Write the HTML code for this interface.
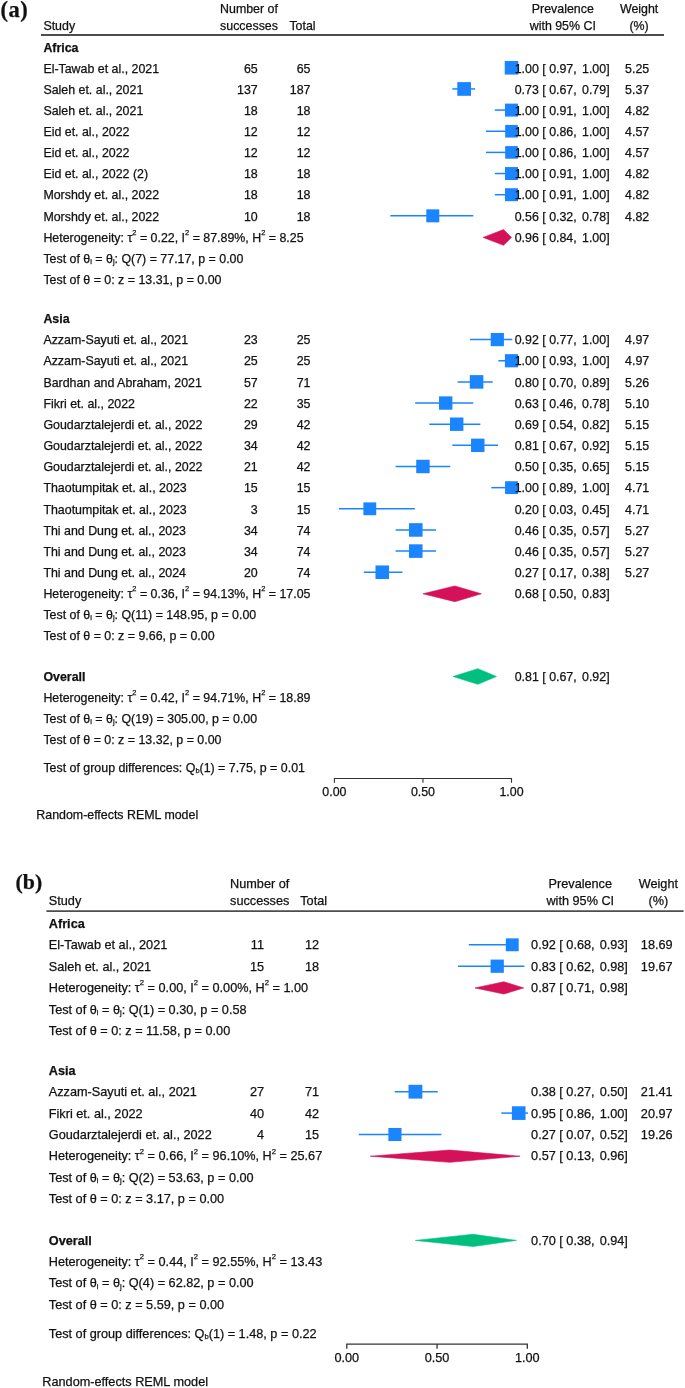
<!DOCTYPE html>
<html><head><meta charset="utf-8"><style>
html,body{margin:0;padding:0;background:#fff;}
svg{display:block;will-change:transform;}
text{font-family:"Liberation Sans",sans-serif;fill:#111;stroke:#111;stroke-width:0.25px;}
</style></head><body>
<svg width="685" height="1388" viewBox="0 0 685 1388">
<rect width="685" height="1388" fill="#fff"/>
<text x="0.50" y="17.40" font-size="22.5" font-weight="bold" style="font-family:'Liberation Serif',serif;letter-spacing:0.5px">(a)</text>
<text x="43.40" y="29.90" font-size="12.4">Study</text>
<text x="249.00" y="12.80" font-size="12.4" text-anchor="middle">Number of</text>
<text x="249.00" y="29.90" font-size="12.4" text-anchor="middle">successes</text>
<text x="302.50" y="29.90" font-size="12.4" text-anchor="middle">Total</text>
<text x="562.80" y="12.80" font-size="12.4" text-anchor="middle">Prevalence</text>
<text x="562.80" y="29.90" font-size="12.4" text-anchor="middle">with 95% CI</text>
<text x="639.10" y="12.80" font-size="12.4" text-anchor="middle">Weight</text>
<text x="639.10" y="29.90" font-size="12.4" text-anchor="middle">(%)</text>
<line x1="41" x2="664" y1="35" y2="35" stroke="#4d4d4d" stroke-width="1.8"/>
<text x="43.40" y="51.80" font-size="12.4" font-weight="bold">Africa</text>
<text x="43.40" y="72.50" font-size="12.4">El-Tawab et al., 2021</text>
<text x="257.70" y="72.50" font-size="12.4" text-anchor="end">65</text>
<text x="310.50" y="72.50" font-size="12.4" text-anchor="end">65</text>
<text x="43.40" y="93.65" font-size="12.4">Saleh et. al., 2021</text>
<text x="257.70" y="93.65" font-size="12.4" text-anchor="end">137</text>
<text x="310.50" y="93.65" font-size="12.4" text-anchor="end">187</text>
<text x="43.40" y="114.80" font-size="12.4">Saleh et. al., 2021</text>
<text x="257.70" y="114.80" font-size="12.4" text-anchor="end">18</text>
<text x="310.50" y="114.80" font-size="12.4" text-anchor="end">18</text>
<text x="43.40" y="135.95" font-size="12.4">Eid et. al., 2022</text>
<text x="257.70" y="135.95" font-size="12.4" text-anchor="end">12</text>
<text x="310.50" y="135.95" font-size="12.4" text-anchor="end">12</text>
<text x="43.40" y="157.10" font-size="12.4">Eid et. al., 2022</text>
<text x="257.70" y="157.10" font-size="12.4" text-anchor="end">12</text>
<text x="310.50" y="157.10" font-size="12.4" text-anchor="end">12</text>
<text x="43.40" y="178.25" font-size="12.4">Eid et. al., 2022 (2)</text>
<text x="257.70" y="178.25" font-size="12.4" text-anchor="end">18</text>
<text x="310.50" y="178.25" font-size="12.4" text-anchor="end">18</text>
<text x="43.40" y="199.40" font-size="12.4">Morshdy et. al., 2022</text>
<text x="257.70" y="199.40" font-size="12.4" text-anchor="end">18</text>
<text x="310.50" y="199.40" font-size="12.4" text-anchor="end">18</text>
<text x="43.40" y="220.55" font-size="12.4">Morshdy et. al., 2022</text>
<text x="257.70" y="220.55" font-size="12.4" text-anchor="end">10</text>
<text x="310.50" y="220.55" font-size="12.4" text-anchor="end">18</text>
<text x="43.40" y="241.70" font-size="12.4">Heterogeneity: τ<tspan font-size="7.44" dy="-6.70">2</tspan><tspan dy="6.70"> = 0.22, I</tspan><tspan font-size="7.44" dy="-6.70">2</tspan><tspan dy="6.70"> = 87.89%, H</tspan><tspan font-size="7.44" dy="-6.70">2</tspan><tspan dy="6.70"> = 8.25</tspan></text>
<text x="43.40" y="262.85" font-size="12.4">Test of θ<tspan font-size="7.44" dy="1.24">i</tspan><tspan dy="-1.24"> = θ</tspan><tspan font-size="7.44" dy="1.24">j</tspan><tspan dy="-1.24">: Q(7) = 77.17, p = 0.00</tspan></text>
<text x="43.40" y="284.00" font-size="12.4">Test of θ = 0: z = 13.31, p = 0.00</text>
<text x="43.40" y="323.00" font-size="12.4" font-weight="bold">Asia</text>
<text x="43.40" y="344.30" font-size="12.4">Azzam-Sayuti et. al., 2021</text>
<text x="257.70" y="344.30" font-size="12.4" text-anchor="end">23</text>
<text x="310.50" y="344.30" font-size="12.4" text-anchor="end">25</text>
<text x="43.40" y="365.45" font-size="12.4">Azzam-Sayuti et. al., 2021</text>
<text x="257.70" y="365.45" font-size="12.4" text-anchor="end">25</text>
<text x="310.50" y="365.45" font-size="12.4" text-anchor="end">25</text>
<text x="43.40" y="386.60" font-size="12.4">Bardhan and Abraham, 2021</text>
<text x="257.70" y="386.60" font-size="12.4" text-anchor="end">57</text>
<text x="310.50" y="386.60" font-size="12.4" text-anchor="end">71</text>
<text x="43.40" y="407.75" font-size="12.4">Fikri et. al., 2022</text>
<text x="257.70" y="407.75" font-size="12.4" text-anchor="end">22</text>
<text x="310.50" y="407.75" font-size="12.4" text-anchor="end">35</text>
<text x="43.40" y="428.90" font-size="12.4">Goudarztalejerdi et. al., 2022</text>
<text x="257.70" y="428.90" font-size="12.4" text-anchor="end">29</text>
<text x="310.50" y="428.90" font-size="12.4" text-anchor="end">42</text>
<text x="43.40" y="450.05" font-size="12.4">Goudarztalejerdi et. al., 2022</text>
<text x="257.70" y="450.05" font-size="12.4" text-anchor="end">34</text>
<text x="310.50" y="450.05" font-size="12.4" text-anchor="end">42</text>
<text x="43.40" y="471.20" font-size="12.4">Goudarztalejerdi et. al., 2022</text>
<text x="257.70" y="471.20" font-size="12.4" text-anchor="end">21</text>
<text x="310.50" y="471.20" font-size="12.4" text-anchor="end">42</text>
<text x="43.40" y="492.35" font-size="12.4">Thaotumpitak et. al., 2023</text>
<text x="257.70" y="492.35" font-size="12.4" text-anchor="end">15</text>
<text x="310.50" y="492.35" font-size="12.4" text-anchor="end">15</text>
<text x="43.40" y="513.50" font-size="12.4">Thaotumpitak et. al., 2023</text>
<text x="257.70" y="513.50" font-size="12.4" text-anchor="end">3</text>
<text x="310.50" y="513.50" font-size="12.4" text-anchor="end">15</text>
<text x="43.40" y="534.65" font-size="12.4">Thi and Dung et. al., 2023</text>
<text x="257.70" y="534.65" font-size="12.4" text-anchor="end">34</text>
<text x="310.50" y="534.65" font-size="12.4" text-anchor="end">74</text>
<text x="43.40" y="555.80" font-size="12.4">Thi and Dung et. al., 2023</text>
<text x="257.70" y="555.80" font-size="12.4" text-anchor="end">34</text>
<text x="310.50" y="555.80" font-size="12.4" text-anchor="end">74</text>
<text x="43.40" y="576.95" font-size="12.4">Thi and Dung et. al., 2024</text>
<text x="257.70" y="576.95" font-size="12.4" text-anchor="end">20</text>
<text x="310.50" y="576.95" font-size="12.4" text-anchor="end">74</text>
<text x="43.40" y="598.10" font-size="12.4">Heterogeneity: τ<tspan font-size="7.44" dy="-6.70">2</tspan><tspan dy="6.70"> = 0.36, I</tspan><tspan font-size="7.44" dy="-6.70">2</tspan><tspan dy="6.70"> = 94.13%, H</tspan><tspan font-size="7.44" dy="-6.70">2</tspan><tspan dy="6.70"> = 17.05</tspan></text>
<text x="43.40" y="619.25" font-size="12.4">Test of θ<tspan font-size="7.44" dy="1.24">i</tspan><tspan dy="-1.24"> = θ</tspan><tspan font-size="7.44" dy="1.24">j</tspan><tspan dy="-1.24">: Q(11) = 148.95, p = 0.00</tspan></text>
<text x="43.40" y="640.40" font-size="12.4">Test of θ = 0: z = 9.66, p = 0.00</text>
<text x="43.40" y="680.80" font-size="12.4" font-weight="bold">Overall</text>
<text x="43.40" y="701.95" font-size="12.4">Heterogeneity: τ<tspan font-size="7.44" dy="-6.70">2</tspan><tspan dy="6.70"> = 0.42, I</tspan><tspan font-size="7.44" dy="-6.70">2</tspan><tspan dy="6.70"> = 94.71%, H</tspan><tspan font-size="7.44" dy="-6.70">2</tspan><tspan dy="6.70"> = 18.89</tspan></text>
<text x="43.40" y="723.10" font-size="12.4">Test of θ<tspan font-size="7.44" dy="1.24">i</tspan><tspan dy="-1.24"> = θ</tspan><tspan font-size="7.44" dy="1.24">j</tspan><tspan dy="-1.24">: Q(19) = 305.00, p = 0.00</tspan></text>
<text x="43.40" y="744.25" font-size="12.4">Test of θ = 0: z = 13.32, p = 0.00</text>
<text x="43.40" y="771.50" font-size="12.4">Test of group differences: Q<tspan font-size="7.44" dy="1.24">b</tspan><tspan dy="-1.24">(1) = 7.75, p = 0.01</tspan></text>
<path d="M334.40,782.80 V778.50 H511.50 V782.80 M422.95,778.50 V782.80" fill="none" stroke="#333" stroke-width="1.1"/>
<text x="334.40" y="796.40" font-size="12.4" text-anchor="middle">0.00</text>
<text x="422.95" y="796.40" font-size="12.4" text-anchor="middle">0.50</text>
<text x="511.50" y="796.40" font-size="12.4" text-anchor="middle">1.00</text>
<text x="36.30" y="819.20" font-size="12.4">Random-effects REML model</text>
<line x1="506.19" x2="511.50" y1="67.80" y2="67.80" stroke="#1a85ff" stroke-width="1.5" stroke-linecap="square"/>
<rect x="504.73" y="61.03" width="13.55" height="13.55" fill="#1a85ff"/>
<line x1="453.06" x2="474.31" y1="88.95" y2="88.95" stroke="#1a85ff" stroke-width="1.5" stroke-linecap="square"/>
<rect x="457.30" y="82.10" width="13.70" height="13.70" fill="#1a85ff"/>
<line x1="495.56" x2="511.50" y1="110.10" y2="110.10" stroke="#1a85ff" stroke-width="1.5" stroke-linecap="square"/>
<rect x="505.01" y="103.61" width="12.98" height="12.98" fill="#1a85ff"/>
<line x1="486.71" x2="511.50" y1="131.25" y2="131.25" stroke="#1a85ff" stroke-width="1.5" stroke-linecap="square"/>
<rect x="505.18" y="124.93" width="12.64" height="12.64" fill="#1a85ff"/>
<line x1="486.71" x2="511.50" y1="152.40" y2="152.40" stroke="#1a85ff" stroke-width="1.5" stroke-linecap="square"/>
<rect x="505.18" y="146.08" width="12.64" height="12.64" fill="#1a85ff"/>
<line x1="495.56" x2="511.50" y1="173.55" y2="173.55" stroke="#1a85ff" stroke-width="1.5" stroke-linecap="square"/>
<rect x="505.01" y="167.06" width="12.98" height="12.98" fill="#1a85ff"/>
<line x1="495.56" x2="511.50" y1="194.70" y2="194.70" stroke="#1a85ff" stroke-width="1.5" stroke-linecap="square"/>
<rect x="505.01" y="188.21" width="12.98" height="12.98" fill="#1a85ff"/>
<line x1="391.07" x2="472.54" y1="215.85" y2="215.85" stroke="#1a85ff" stroke-width="1.5" stroke-linecap="square"/>
<rect x="426.30" y="209.36" width="12.98" height="12.98" fill="#1a85ff"/>
<polygon points="483.16,237.40 503.53,229.55 511.50,237.40 503.53,245.25" fill="#d41159" stroke="#d41159" stroke-width="0.6"/>
<line x1="470.77" x2="511.50" y1="339.60" y2="339.60" stroke="#1a85ff" stroke-width="1.5" stroke-linecap="square"/>
<rect x="490.74" y="333.01" width="13.18" height="13.18" fill="#1a85ff"/>
<line x1="499.10" x2="511.50" y1="360.75" y2="360.75" stroke="#1a85ff" stroke-width="1.5" stroke-linecap="square"/>
<rect x="504.91" y="354.16" width="13.18" height="13.18" fill="#1a85ff"/>
<line x1="458.37" x2="492.02" y1="381.90" y2="381.90" stroke="#1a85ff" stroke-width="1.5" stroke-linecap="square"/>
<rect x="469.80" y="375.12" width="13.56" height="13.56" fill="#1a85ff"/>
<line x1="415.87" x2="472.54" y1="403.05" y2="403.05" stroke="#1a85ff" stroke-width="1.5" stroke-linecap="square"/>
<rect x="439.04" y="396.37" width="13.35" height="13.35" fill="#1a85ff"/>
<line x1="430.03" x2="479.62" y1="424.20" y2="424.20" stroke="#1a85ff" stroke-width="1.5" stroke-linecap="square"/>
<rect x="449.98" y="417.49" width="13.42" height="13.42" fill="#1a85ff"/>
<line x1="453.06" x2="497.33" y1="445.35" y2="445.35" stroke="#1a85ff" stroke-width="1.5" stroke-linecap="square"/>
<rect x="471.06" y="438.64" width="13.42" height="13.42" fill="#1a85ff"/>
<line x1="396.38" x2="449.51" y1="466.50" y2="466.50" stroke="#1a85ff" stroke-width="1.5" stroke-linecap="square"/>
<rect x="416.24" y="459.79" width="13.42" height="13.42" fill="#1a85ff"/>
<line x1="492.02" x2="511.50" y1="487.65" y2="487.65" stroke="#1a85ff" stroke-width="1.5" stroke-linecap="square"/>
<rect x="505.08" y="481.23" width="12.83" height="12.83" fill="#1a85ff"/>
<line x1="339.71" x2="414.09" y1="508.80" y2="508.80" stroke="#1a85ff" stroke-width="1.5" stroke-linecap="square"/>
<rect x="363.40" y="502.38" width="12.83" height="12.83" fill="#1a85ff"/>
<line x1="396.38" x2="435.35" y1="529.95" y2="529.95" stroke="#1a85ff" stroke-width="1.5" stroke-linecap="square"/>
<rect x="408.98" y="523.16" width="13.57" height="13.57" fill="#1a85ff"/>
<line x1="396.38" x2="435.35" y1="551.10" y2="551.10" stroke="#1a85ff" stroke-width="1.5" stroke-linecap="square"/>
<rect x="408.98" y="544.31" width="13.57" height="13.57" fill="#1a85ff"/>
<line x1="364.51" x2="401.70" y1="572.25" y2="572.25" stroke="#1a85ff" stroke-width="1.5" stroke-linecap="square"/>
<rect x="375.48" y="565.46" width="13.57" height="13.57" fill="#1a85ff"/>
<polygon points="422.95,593.80 454.83,585.95 481.39,593.80 454.83,601.65" fill="#d41159" stroke="#d41159" stroke-width="0.6"/>
<polygon points="453.06,676.50 477.85,668.65 496.45,676.50 477.85,684.35" fill="#00bf7f" stroke="#00bf7f" stroke-width="0.6"/>
<text x="514.70" y="72.50" font-size="12.4">1.00 [ 0.97,</text>
<text x="609.60" y="72.50" font-size="12.4" text-anchor="end">1.00]</text>
<text x="649.20" y="72.50" font-size="12.4" text-anchor="end">5.25</text>
<text x="514.70" y="93.65" font-size="12.4">0.73 [ 0.67,</text>
<text x="609.60" y="93.65" font-size="12.4" text-anchor="end">0.79]</text>
<text x="649.20" y="93.65" font-size="12.4" text-anchor="end">5.37</text>
<text x="514.70" y="114.80" font-size="12.4">1.00 [ 0.91,</text>
<text x="609.60" y="114.80" font-size="12.4" text-anchor="end">1.00]</text>
<text x="649.20" y="114.80" font-size="12.4" text-anchor="end">4.82</text>
<text x="514.70" y="135.95" font-size="12.4">1.00 [ 0.86,</text>
<text x="609.60" y="135.95" font-size="12.4" text-anchor="end">1.00]</text>
<text x="649.20" y="135.95" font-size="12.4" text-anchor="end">4.57</text>
<text x="514.70" y="157.10" font-size="12.4">1.00 [ 0.86,</text>
<text x="609.60" y="157.10" font-size="12.4" text-anchor="end">1.00]</text>
<text x="649.20" y="157.10" font-size="12.4" text-anchor="end">4.57</text>
<text x="514.70" y="178.25" font-size="12.4">1.00 [ 0.91,</text>
<text x="609.60" y="178.25" font-size="12.4" text-anchor="end">1.00]</text>
<text x="649.20" y="178.25" font-size="12.4" text-anchor="end">4.82</text>
<text x="514.70" y="199.40" font-size="12.4">1.00 [ 0.91,</text>
<text x="609.60" y="199.40" font-size="12.4" text-anchor="end">1.00]</text>
<text x="649.20" y="199.40" font-size="12.4" text-anchor="end">4.82</text>
<text x="514.70" y="220.55" font-size="12.4">0.56 [ 0.32,</text>
<text x="609.60" y="220.55" font-size="12.4" text-anchor="end">0.78]</text>
<text x="649.20" y="220.55" font-size="12.4" text-anchor="end">4.82</text>
<text x="514.70" y="241.70" font-size="12.4">0.96 [ 0.84,</text>
<text x="609.60" y="241.70" font-size="12.4" text-anchor="end">1.00]</text>
<text x="514.70" y="344.30" font-size="12.4">0.92 [ 0.77,</text>
<text x="609.60" y="344.30" font-size="12.4" text-anchor="end">1.00]</text>
<text x="649.20" y="344.30" font-size="12.4" text-anchor="end">4.97</text>
<text x="514.70" y="365.45" font-size="12.4">1.00 [ 0.93,</text>
<text x="609.60" y="365.45" font-size="12.4" text-anchor="end">1.00]</text>
<text x="649.20" y="365.45" font-size="12.4" text-anchor="end">4.97</text>
<text x="514.70" y="386.60" font-size="12.4">0.80 [ 0.70,</text>
<text x="609.60" y="386.60" font-size="12.4" text-anchor="end">0.89]</text>
<text x="649.20" y="386.60" font-size="12.4" text-anchor="end">5.26</text>
<text x="514.70" y="407.75" font-size="12.4">0.63 [ 0.46,</text>
<text x="609.60" y="407.75" font-size="12.4" text-anchor="end">0.78]</text>
<text x="649.20" y="407.75" font-size="12.4" text-anchor="end">5.10</text>
<text x="514.70" y="428.90" font-size="12.4">0.69 [ 0.54,</text>
<text x="609.60" y="428.90" font-size="12.4" text-anchor="end">0.82]</text>
<text x="649.20" y="428.90" font-size="12.4" text-anchor="end">5.15</text>
<text x="514.70" y="450.05" font-size="12.4">0.81 [ 0.67,</text>
<text x="609.60" y="450.05" font-size="12.4" text-anchor="end">0.92]</text>
<text x="649.20" y="450.05" font-size="12.4" text-anchor="end">5.15</text>
<text x="514.70" y="471.20" font-size="12.4">0.50 [ 0.35,</text>
<text x="609.60" y="471.20" font-size="12.4" text-anchor="end">0.65]</text>
<text x="649.20" y="471.20" font-size="12.4" text-anchor="end">5.15</text>
<text x="514.70" y="492.35" font-size="12.4">1.00 [ 0.89,</text>
<text x="609.60" y="492.35" font-size="12.4" text-anchor="end">1.00]</text>
<text x="649.20" y="492.35" font-size="12.4" text-anchor="end">4.71</text>
<text x="514.70" y="513.50" font-size="12.4">0.20 [ 0.03,</text>
<text x="609.60" y="513.50" font-size="12.4" text-anchor="end">0.45]</text>
<text x="649.20" y="513.50" font-size="12.4" text-anchor="end">4.71</text>
<text x="514.70" y="534.65" font-size="12.4">0.46 [ 0.35,</text>
<text x="609.60" y="534.65" font-size="12.4" text-anchor="end">0.57]</text>
<text x="649.20" y="534.65" font-size="12.4" text-anchor="end">5.27</text>
<text x="514.70" y="555.80" font-size="12.4">0.46 [ 0.35,</text>
<text x="609.60" y="555.80" font-size="12.4" text-anchor="end">0.57]</text>
<text x="649.20" y="555.80" font-size="12.4" text-anchor="end">5.27</text>
<text x="514.70" y="576.95" font-size="12.4">0.27 [ 0.17,</text>
<text x="609.60" y="576.95" font-size="12.4" text-anchor="end">0.38]</text>
<text x="649.20" y="576.95" font-size="12.4" text-anchor="end">5.27</text>
<text x="514.70" y="598.10" font-size="12.4">0.68 [ 0.50,</text>
<text x="609.60" y="598.10" font-size="12.4" text-anchor="end">0.83]</text>
<text x="514.70" y="680.80" font-size="12.4">0.81 [ 0.67,</text>
<text x="609.60" y="680.80" font-size="12.4" text-anchor="end">0.92]</text>
<text x="15.60" y="888.90" font-size="21.8" font-weight="bold" style="font-family:'Liberation Serif',serif;letter-spacing:0px">(b)</text>
<text x="48.80" y="905.30" font-size="12.7">Study</text>
<text x="259.70" y="887.50" font-size="12.7" text-anchor="middle">Number of</text>
<text x="259.70" y="905.30" font-size="12.7" text-anchor="middle">successes</text>
<text x="313.70" y="905.30" font-size="12.7" text-anchor="middle">Total</text>
<text x="580.30" y="887.50" font-size="12.7" text-anchor="middle">Prevalence</text>
<text x="580.30" y="905.30" font-size="12.7" text-anchor="middle">with 95% CI</text>
<text x="658.35" y="887.50" font-size="12.7" text-anchor="middle">Weight</text>
<text x="658.35" y="905.30" font-size="12.7" text-anchor="middle">(%)</text>
<line x1="46.4" x2="683.6" y1="911.2" y2="911.2" stroke="#4d4d4d" stroke-width="1.8"/>
<text x="48.80" y="927.70" font-size="12.7" font-weight="bold">Africa</text>
<text x="48.80" y="949.30" font-size="12.7">El-Tawab et al., 2021</text>
<text x="264.00" y="949.30" font-size="12.7" text-anchor="end">11</text>
<text x="319.00" y="949.30" font-size="12.7" text-anchor="end">12</text>
<text x="48.80" y="970.70" font-size="12.7">Saleh et. al., 2021</text>
<text x="264.00" y="970.70" font-size="12.7" text-anchor="end">15</text>
<text x="319.00" y="970.70" font-size="12.7" text-anchor="end">18</text>
<text x="48.80" y="992.10" font-size="12.7">Heterogeneity: τ<tspan font-size="7.62" dy="-6.86">2</tspan><tspan dy="6.86"> = 0.00, I</tspan><tspan font-size="7.62" dy="-6.86">2</tspan><tspan dy="6.86"> = 0.00%, H</tspan><tspan font-size="7.62" dy="-6.86">2</tspan><tspan dy="6.86"> = 1.00</tspan></text>
<text x="48.80" y="1013.50" font-size="12.7">Test of θ<tspan font-size="7.62" dy="1.27">i</tspan><tspan dy="-1.27"> = θ</tspan><tspan font-size="7.62" dy="1.27">j</tspan><tspan dy="-1.27">: Q(1) = 0.30, p = 0.58</tspan></text>
<text x="48.80" y="1034.90" font-size="12.7">Test of θ = 0: z = 11.58, p = 0.00</text>
<text x="48.80" y="1074.70" font-size="12.7" font-weight="bold">Asia</text>
<text x="48.80" y="1096.20" font-size="12.7">Azzam-Sayuti et. al., 2021</text>
<text x="264.00" y="1096.20" font-size="12.7" text-anchor="end">27</text>
<text x="319.00" y="1096.20" font-size="12.7" text-anchor="end">71</text>
<text x="48.80" y="1117.60" font-size="12.7">Fikri et. al., 2022</text>
<text x="264.00" y="1117.60" font-size="12.7" text-anchor="end">40</text>
<text x="319.00" y="1117.60" font-size="12.7" text-anchor="end">42</text>
<text x="48.80" y="1139.00" font-size="12.7">Goudarztalejerdi et. al., 2022</text>
<text x="264.00" y="1139.00" font-size="12.7" text-anchor="end">4</text>
<text x="319.00" y="1139.00" font-size="12.7" text-anchor="end">15</text>
<text x="48.80" y="1160.40" font-size="12.7">Heterogeneity: τ<tspan font-size="7.62" dy="-6.86">2</tspan><tspan dy="6.86"> = 0.66, I</tspan><tspan font-size="7.62" dy="-6.86">2</tspan><tspan dy="6.86"> = 96.10%, H</tspan><tspan font-size="7.62" dy="-6.86">2</tspan><tspan dy="6.86"> = 25.67</tspan></text>
<text x="48.80" y="1181.80" font-size="12.7">Test of θ<tspan font-size="7.62" dy="1.27">i</tspan><tspan dy="-1.27"> = θ</tspan><tspan font-size="7.62" dy="1.27">j</tspan><tspan dy="-1.27">: Q(2) = 53.63, p = 0.00</tspan></text>
<text x="48.80" y="1203.20" font-size="12.7">Test of θ = 0: z = 3.17, p = 0.00</text>
<text x="48.80" y="1244.60" font-size="12.7" font-weight="bold">Overall</text>
<text x="48.80" y="1266.00" font-size="12.7">Heterogeneity: τ<tspan font-size="7.62" dy="-6.86">2</tspan><tspan dy="6.86"> = 0.44, I</tspan><tspan font-size="7.62" dy="-6.86">2</tspan><tspan dy="6.86"> = 92.55%, H</tspan><tspan font-size="7.62" dy="-6.86">2</tspan><tspan dy="6.86"> = 13.43</tspan></text>
<text x="48.80" y="1287.40" font-size="12.7">Test of θ<tspan font-size="7.62" dy="1.27">i</tspan><tspan dy="-1.27"> = θ</tspan><tspan font-size="7.62" dy="1.27">j</tspan><tspan dy="-1.27">: Q(4) = 62.82, p = 0.00</tspan></text>
<text x="48.80" y="1308.80" font-size="12.7">Test of θ = 0: z = 5.59, p = 0.00</text>
<text x="48.80" y="1337.60" font-size="12.7">Test of group differences: Q<tspan font-size="7.62" dy="1.27">b</tspan><tspan dy="-1.27">(1) = 1.48, p = 0.22</tspan></text>
<path d="M346.80,1348.80 V1344.20 H527.30 V1348.80 M437.05,1344.20 V1348.80" fill="none" stroke="#333" stroke-width="1.3"/>
<text x="346.80" y="1362.30" font-size="12.7" text-anchor="middle">0.00</text>
<text x="437.05" y="1362.30" font-size="12.7" text-anchor="middle">0.50</text>
<text x="527.30" y="1362.30" font-size="12.7" text-anchor="middle">1.00</text>
<text x="42.30" y="1386.10" font-size="12.7">Random-effects REML model</text>
<line x1="469.54" x2="514.66" y1="944.80" y2="944.80" stroke="#1a85ff" stroke-width="1.5" stroke-linecap="square"/>
<rect x="505.81" y="938.35" width="12.89" height="12.89" fill="#1a85ff"/>
<line x1="458.71" x2="523.69" y1="966.20" y2="966.20" stroke="#1a85ff" stroke-width="1.5" stroke-linecap="square"/>
<rect x="490.60" y="959.59" width="13.23" height="13.23" fill="#1a85ff"/>
<polygon points="474.95,987.90 503.83,981.75 523.69,987.90 503.83,994.05" fill="#d41159" stroke="#d41159" stroke-width="0.6"/>
<line x1="395.53" x2="437.05" y1="1091.70" y2="1091.70" stroke="#1a85ff" stroke-width="1.5" stroke-linecap="square"/>
<rect x="408.54" y="1084.80" width="13.80" height="13.80" fill="#1a85ff"/>
<line x1="502.03" x2="527.30" y1="1113.10" y2="1113.10" stroke="#1a85ff" stroke-width="1.5" stroke-linecap="square"/>
<rect x="511.88" y="1106.27" width="13.66" height="13.66" fill="#1a85ff"/>
<line x1="359.44" x2="440.66" y1="1134.50" y2="1134.50" stroke="#1a85ff" stroke-width="1.5" stroke-linecap="square"/>
<rect x="388.39" y="1127.96" width="13.09" height="13.09" fill="#1a85ff"/>
<polygon points="370.26,1156.20 449.68,1150.05 520.08,1156.20 449.68,1162.35" fill="#d41159" stroke="#d41159" stroke-width="0.6"/>
<polygon points="415.39,1240.40 473.15,1234.25 516.47,1240.40 473.15,1246.55" fill="#00bf7f" stroke="#00bf7f" stroke-width="0.6"/>
<text x="531.10" y="949.30" font-size="12.7">0.92 [ 0.68,</text>
<text x="627.90" y="949.30" font-size="12.7" text-anchor="end">0.93]</text>
<text x="672.60" y="949.30" font-size="12.7" text-anchor="end">18.69</text>
<text x="531.10" y="970.70" font-size="12.7">0.83 [ 0.62,</text>
<text x="627.90" y="970.70" font-size="12.7" text-anchor="end">0.98]</text>
<text x="672.60" y="970.70" font-size="12.7" text-anchor="end">19.67</text>
<text x="531.10" y="992.10" font-size="12.7">0.87 [ 0.71,</text>
<text x="627.90" y="992.10" font-size="12.7" text-anchor="end">0.98]</text>
<text x="531.10" y="1096.20" font-size="12.7">0.38 [ 0.27,</text>
<text x="627.90" y="1096.20" font-size="12.7" text-anchor="end">0.50]</text>
<text x="672.60" y="1096.20" font-size="12.7" text-anchor="end">21.41</text>
<text x="531.10" y="1117.60" font-size="12.7">0.95 [ 0.86,</text>
<text x="627.90" y="1117.60" font-size="12.7" text-anchor="end">1.00]</text>
<text x="672.60" y="1117.60" font-size="12.7" text-anchor="end">20.97</text>
<text x="531.10" y="1139.00" font-size="12.7">0.27 [ 0.07,</text>
<text x="627.90" y="1139.00" font-size="12.7" text-anchor="end">0.52]</text>
<text x="672.60" y="1139.00" font-size="12.7" text-anchor="end">19.26</text>
<text x="531.10" y="1160.40" font-size="12.7">0.57 [ 0.13,</text>
<text x="627.90" y="1160.40" font-size="12.7" text-anchor="end">0.96]</text>
<text x="531.10" y="1244.60" font-size="12.7">0.70 [ 0.38,</text>
<text x="627.90" y="1244.60" font-size="12.7" text-anchor="end">0.94]</text>
</svg>
</body></html>
